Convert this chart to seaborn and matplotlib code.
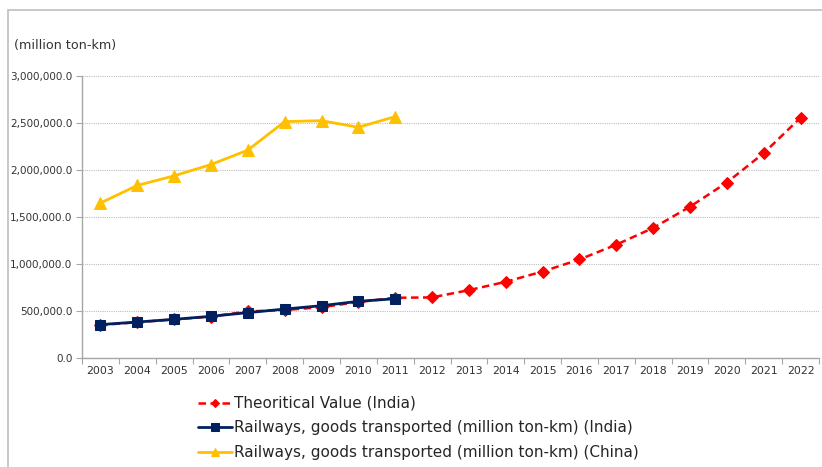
import matplotlib
matplotlib.use("Agg")
import matplotlib.pyplot as plt
from matplotlib.patches import Rectangle
from matplotlib.ticker import FuncFormatter, FixedLocator
import seaborn as sns
import pandas as pd

# Freight carried by rail, million ton-km
years = list(range(2003, 2023))
theoretical_india = [350000, 380000, 410000, 440000, 495000, 510000, 540000, 595000, 640000,
                     644000, 721000, 810000, 919000, 1047000, 1205000, 1382000, 1608000,
                     1865000, 2177000, 2554000]
years_actual = list(range(2003, 2012))
railways_india = [355000, 382000, 411000, 443000, 482000, 520000, 556000, 602000, 630000]
railways_china = [1647000, 1834000, 1936000, 2056000, 2209000, 2512000, 2522000, 2452000, 2565000]

labels = ["Theoritical Value (India)",
          "Railways, goods transported (million ton-km) (India)",
          "Railways, goods transported (million ton-km) (China)"]

sns.set_theme(style="white")
plt.rcParams["font.family"] = ["DejaVu Sans"]

fig = plt.figure(figsize=(8.22, 4.67), dpi=100)
ax = fig.add_axes([82 / 822, 109 / 467, 737 / 822, 282.3 / 467])

df_th = pd.DataFrame({"year": years, "value": theoretical_india})
df_in = pd.DataFrame({"year": years_actual, "value": railways_india})
df_cn = pd.DataFrame({"year": years_actual, "value": railways_china})

sns.lineplot(data=df_th, x="year", y="value", ax=ax, color="#FF0000", lw=1.8,
             marker="D", markersize=6, markeredgecolor="#FF0000", label=labels[0],
             dashes=False, linestyle=(0, (3, 1.8)))
sns.lineplot(data=df_in, x="year", y="value", ax=ax, color="#002060", lw=2.0,
             marker="s", markersize=7, markeredgecolor="#002060", label=labels[1])
sns.lineplot(data=df_cn, x="year", y="value", ax=ax, color="#FFC000", lw=2.0,
             marker="^", markersize=8, markeredgecolor="#FFC000", label=labels[2])

ax.set_xlim(2002.5, 2022.5)
ax.set_ylim(0, 3000000)
ax.set_xlabel("")
ax.set_ylabel("")

ax.xaxis.set_major_locator(FixedLocator(years))
ax.set_xticklabels([str(y) for y in years])
ax.xaxis.set_minor_locator(FixedLocator([y + 0.5 for y in range(2002, 2023)]))
ax.tick_params(axis="x", which="major", length=0, pad=6, labelsize=7.8, labelcolor="#333333")
ax.tick_params(axis="x", which="minor", length=4, width=0.8, color="#A6A6A6", bottom=True)

ax.set_yticks(range(0, 3000001, 500000))
ax.yaxis.set_major_formatter(FuncFormatter(lambda v, _: f"{v:,.1f}"))
ax.tick_params(axis="y", length=4, width=0.8, color="#A6A6A6", left=True, pad=3,
               labelsize=7.5, labelcolor="#333333")

ax.grid(axis="y", color="#BFBFBF", linestyle=(0, (1, 1)), linewidth=0.8)
ax.grid(axis="x", visible=False)
for side in ["top", "right"]:
    ax.spines[side].set_visible(False)
for side in ["left", "bottom"]:
    ax.spines[side].set_color("#A6A6A6")
    ax.spines[side].set_linewidth(1.0)

fig.text(14 / 822, 1 - 45 / 467, "(million ton-km)", fontsize=9.2, color="#333333",
         va="center", ha="left")

ax.legend_.remove()
handles, lbls = ax.get_legend_handles_labels()
fig.legend(handles, lbls, loc="upper left", bbox_to_anchor=(198 / 822, 1 - 396 / 467),
           frameon=False, fontsize=11, handlelength=2.2, handletextpad=0.15,
           labelspacing=0.62, borderaxespad=0, borderpad=0, labelcolor="#262626",
           markerscale=0.75)

# outer chart frame
fig.patches.append(Rectangle((8 / 822, -0.1), 1.2, 1 - 10 / 467 + 0.1,
                             transform=fig.transFigure, fill=False,
                             edgecolor="#BFBFBF", linewidth=1.2))

fig.savefig("out.png", dpi=100)
